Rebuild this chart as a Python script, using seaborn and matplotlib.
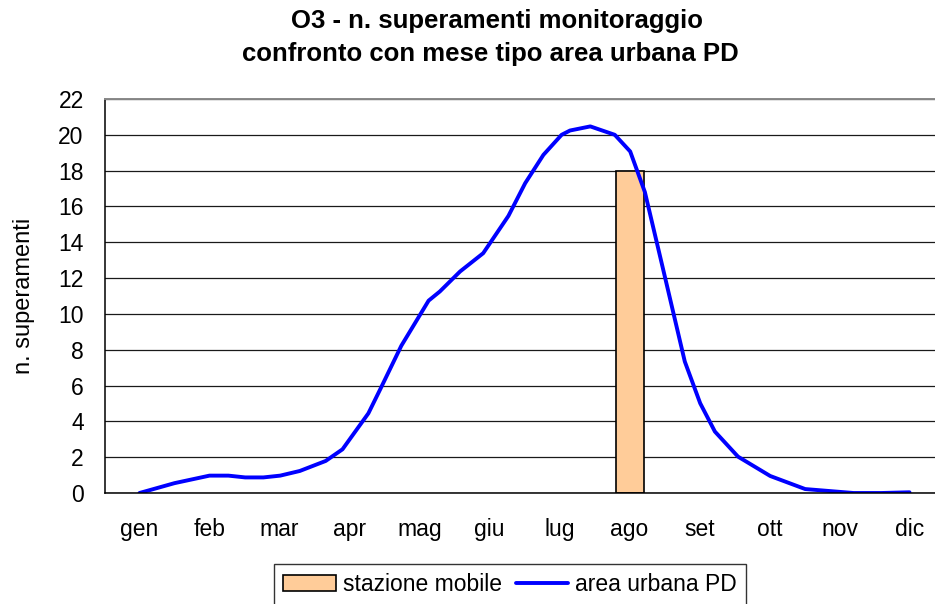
import numpy as np
import pandas as pd
import matplotlib
matplotlib.use('Agg')
import matplotlib.pyplot as plt
import seaborn as sns
from matplotlib.patches import Patch
from matplotlib.lines import Line2D

# Dati
mesi = ['gen', 'feb', 'mar', 'apr', 'mag', 'giu', 'lug', 'ago', 'set', 'ott', 'nov', 'dic']
stazione_mobile = [np.nan, np.nan, np.nan, np.nan, np.nan, np.nan, np.nan, 18,
                   np.nan, np.nan, np.nan, np.nan]

# curva "mese tipo" area urbana PD (posizione in mesi, gen = 0)
curva_x = [0.00, 0.50, 1.00, 1.27, 1.51, 1.77, 2.01, 2.29, 2.66, 2.90, 3.27, 3.44,
           3.74, 4.13, 4.29, 4.58, 4.91, 5.27, 5.51, 5.77, 6.03, 6.15, 6.44, 6.79,
           7.01, 7.22, 7.51, 7.79, 8.01, 8.22, 8.55, 9.01, 9.51, 10.2, 10.6, 11.0]
curva_y = [0.00, 0.55, 0.97, 0.97, 0.87, 0.87, 0.97, 1.23, 1.79, 2.44, 4.45, 5.80,
           8.22, 10.74, 11.25, 12.37, 13.39, 15.47, 17.30, 18.88, 20.00, 20.24, 20.47, 20.00,
           19.07, 16.80, 12.00, 7.34, 5.01, 3.43, 2.03, 0.95, 0.22, 0.00, 0.00, 0.04]

df_bar = pd.DataFrame({'mese': mesi, 'valore': stazione_mobile})

sns.set_style('white')
plt.rcParams['font.family'] = ['Liberation Sans', 'DejaVu Sans']
plt.rcParams['text.color'] = 'black'
plt.rcParams['axes.labelcolor'] = 'black'
plt.rcParams['xtick.color'] = 'black'
plt.rcParams['ytick.color'] = 'black'

fig = plt.figure(figsize=(9.35, 6.04), dpi=100)
ax = fig.add_axes([104.5 / 935, 1 - 493 / 604, 840 / 935, 394 / 604])

# griglia
ax.set_axisbelow(True)
ax.yaxis.grid(True, color='#1a1a1a', linewidth=0.9)

sns.barplot(data=df_bar, x='mese', y='valore', order=mesi, color='#FFCC99',
            edgecolor='black', linewidth=1.2, width=0.4, saturation=1, ax=ax)
sns.lineplot(x=curva_x, y=curva_y, color='#0000FF', linewidth=2.8, ax=ax)

ax.set_xlim(-0.5, 11.5)
ax.set_ylim(0, 22)
ax.set_yticks(np.arange(0, 23, 2))
ax.set_xticks(range(12))
ax.set_xticklabels(mesi)
ax.set_xticks(np.arange(-0.5, 12, 1), minor=True)
ax.tick_params(axis='x', which='major', length=0, pad=18, labelsize=16.5)
ax.tick_params(axis='x', which='minor', length=6, width=1, color='black', direction='out')
ax.tick_params(axis='y', length=6, width=1, color='black', direction='out', pad=9, labelsize=16.5)

ax.set_xlabel('')
ax.set_ylabel('n. superamenti', fontsize=17, labelpad=17)

for s in ['left', 'bottom']:
    ax.spines[s].set_color('black')
    ax.spines[s].set_linewidth(1.1)
ax.spines['right'].set_visible(False)
ax.spines['top'].set_color('#888888')
ax.spines['top'].set_linewidth(1.4)

fig.text(497 / 935, 1 - 21 / 604, 'O3 - n. superamenti monitoraggio', ha='center', va='center',
         fontsize=18.5, fontweight='bold')
fig.text(490 / 935, 1 - 54 / 604, 'confronto con mese tipo area urbana PD', ha='center', va='center',
         fontsize=18.5, fontweight='bold')

handles = [Patch(facecolor='#FFCC99', edgecolor='black', linewidth=1.2),
           Line2D([0], [0], color='#0000FF', linewidth=2.8)]
leg = fig.legend(handles, ['stazione mobile', 'area urbana PD'], loc='upper center',
                 bbox_to_anchor=(510 / 935, 1 - 564 / 604), ncol=2, fontsize=16.5,
                 frameon=True, fancybox=False, edgecolor='black', handlelength=2.3,
                 handleheight=0.65, handletextpad=0.3, columnspacing=0.6, borderpad=0.4,
                 borderaxespad=0)
leg.get_frame().set_linewidth(1.0)

fig.savefig('out.png', dpi=100)
